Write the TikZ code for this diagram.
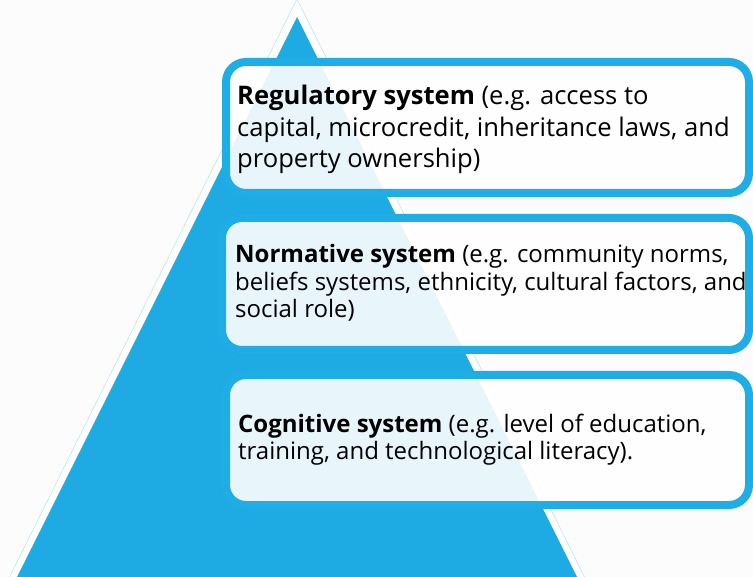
\documentclass[tikz,border=0pt]{standalone}
\usepackage{fontspec}
\setmainfont{Open Sans}
\definecolor{pyrblue}{HTML}{1EAAE2}
\definecolor{boxblue}{HTML}{1FADE5}
\definecolor{faint}{HTML}{BFE3F3}
\definecolor{bg}{HTML}{FCFCFC}
\tikzset{
  sysbox/.style={draw=boxblue, line width=8pt, rounded corners=20pt, fill=white, fill opacity=0.9, draw opacity=1, inner sep=0pt},
  bigtxt/.style={anchor=base west, inner sep=0pt, font=\fontsize{25.6}{30}\selectfont},
  smalltxt/.style={anchor=base west, inner sep=0pt, font=\fontsize{24}{27}\selectfont},
}
\begin{document}
\begin{tikzpicture}[x=1pt,y=-1pt]
\fill[bg] (0,0) rectangle (753,577);
\useasboundingbox (0,0) rectangle (753,577);
\begin{scope}
\clip (0,0) rectangle (753,577);
% pyramid
\filldraw[fill=white, draw=faint, line width=0.6pt] (297,-1) -- (586,580) -- (8,580) -- cycle;
\fill[pyrblue] (297,17) -- (577,577) -- (17,577) -- cycle;
% boxes
\node[sysbox, minimum width=523pt, minimum height=131pt] (b1) at (487.5,127.5) {};
\node[sysbox, minimum width=527pt, minimum height=132pt] (b2) at (485.5,284) {};
\node[sysbox, minimum width=523pt, minimum height=130pt] (b3) at (487.5,440) {};
\end{scope}
% texts
\node[bigtxt] (t1a) at (237,105) {\textbf{Regulatory system} (e.g. access to};
\node[bigtxt] (t1b) at (237,137) {capital, microcredit, inheritance laws, and};
\node[bigtxt] (t1c) at (237,168) {property ownership)};
\node[smalltxt] (t2a) at (235,263) {\textbf{Normative system} (e.g. community norms,};
\node[smalltxt] (t2b) at (235,290.5) {beliefs systems, ethnicity, cultural factors, and};
\node[smalltxt] (t2c) at (235,318) {social role)};
\node[smalltxt] (t3a) at (238,433) {\textbf{Cognitive system} (e.g. level of education,};
\node[smalltxt] (t3b) at (238,460) {training, and technological literacy).};
\end{tikzpicture}
\end{document}
